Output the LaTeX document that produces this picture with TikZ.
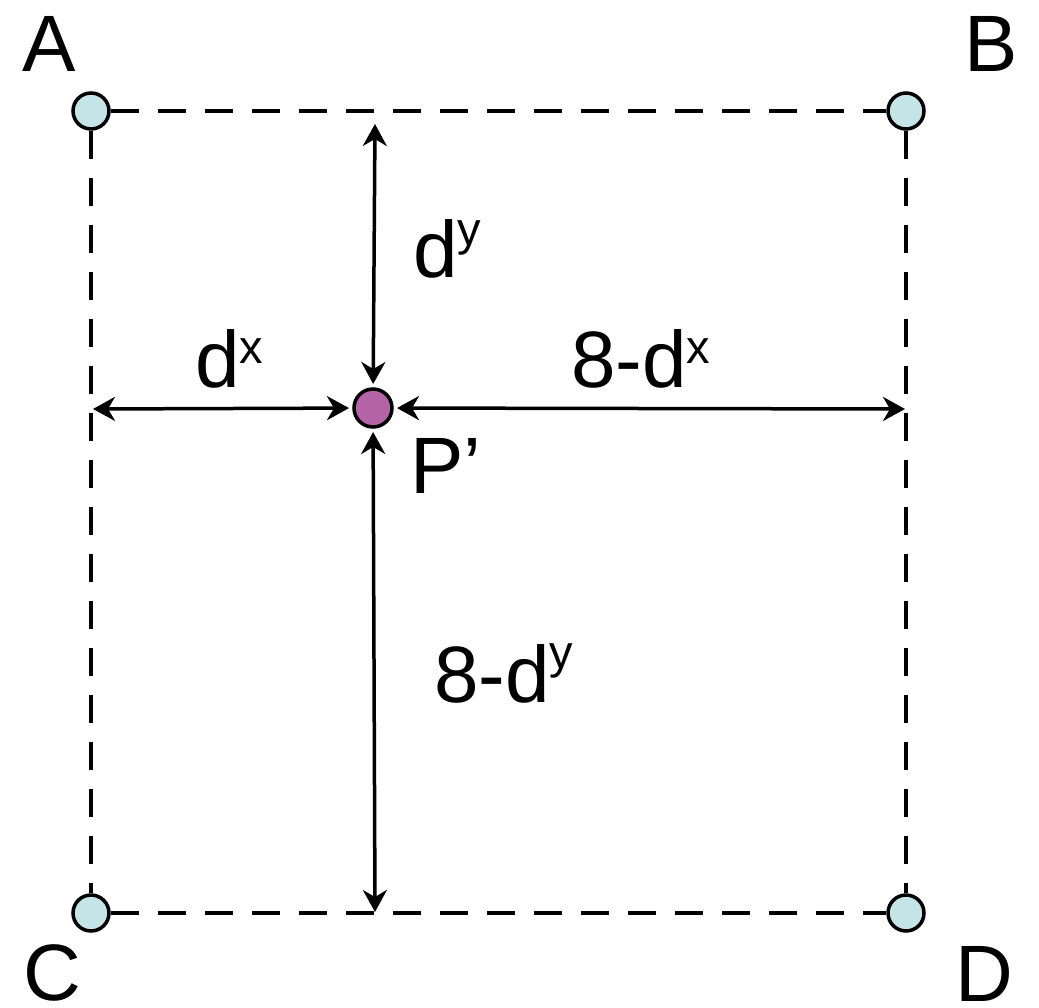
\documentclass[tikz,border=0pt]{standalone}
\usepackage{fontspec}
\setmainfont{Liberation Sans}
\usetikzlibrary{arrows.meta}

\definecolor{cornerblue}{HTML}{C5E4E8}
\definecolor{pointpurple}{HTML}{B565A7}

\newcommand{\supr}[2][24pt]{\raisebox{#1}{\fontsize{47}{50}\selectfont #2}}

\tikzset{
  corner/.style={circle,draw=black,line width=3.5pt,fill=cornerblue,minimum size=36pt,inner sep=0pt},
  pnode/.style={circle,draw=black,line width=3.5pt,fill=pointpurple,minimum size=38pt,inner sep=0pt,outer sep=5pt},
  dashline/.style={line width=4pt,dash pattern=on 28pt off 19pt},
  dimarrow/.style={{Stealth[length=22pt,width=24pt,inset=7pt]}-{Stealth[length=22pt,width=24pt,inset=7pt]},line width=3.5pt},
  lbl/.style={anchor=base west,inner sep=0pt,font=\fontsize{80}{96}\selectfont}
}

\begin{document}
\begin{tikzpicture}[x=1pt,y=-1pt]
  \useasboundingbox (0,0) rectangle (1039,1008);
  % corners
  \node[corner] (A) at (91,111) {};
  \node[corner] (B) at (906,111) {};
  \node[corner] (C) at (91,913) {};
  \node[corner] (D) at (906,913) {};
  \node[pnode] (p) at (373,408) {};
  % free ends of the arrows
  \coordinate (ytop) at (375,124);
  \coordinate (ybot) at (375,912);
  \coordinate (xleft) at (93,409);
  \coordinate (xright) at (905,409);
  % dashed square
  \draw[dashline] (A) -- (B);
  \draw[dashline] (C) -- (D);
  \draw[dashline] (A) -- (C);
  \draw[dashline] (B) -- (D);
  % distances
  \draw[dimarrow] (ytop) -- (p);
  \draw[dimarrow] (p) -- (ybot);
  \draw[dimarrow] (xleft) -- (p);
  \draw[dimarrow] (p) -- (xright);
  % labels
  \node[lbl] (lblA) at (22,72) {A};
  \node[lbl] (lblB) at (964,72) {B};
  \node[lbl] (lblC) at (23,1000) {C};
  \node[lbl] (lblD) at (955,1001) {D};
  \node[lbl] (lbldy) at (413,278) {d\supr[32pt]{y}};
  \node[lbl] (lbldx) at (195,387) {d\supr{x}};
  \node[lbl] (lbl8dx) at (571,387) {8-d\supr{x}};
  \node[lbl] (lblp) at (410,493) {P’};
  \node[lbl] (lbl8dy) at (434,702) {8-d\supr[34pt]{y}};
\end{tikzpicture}
\end{document}
